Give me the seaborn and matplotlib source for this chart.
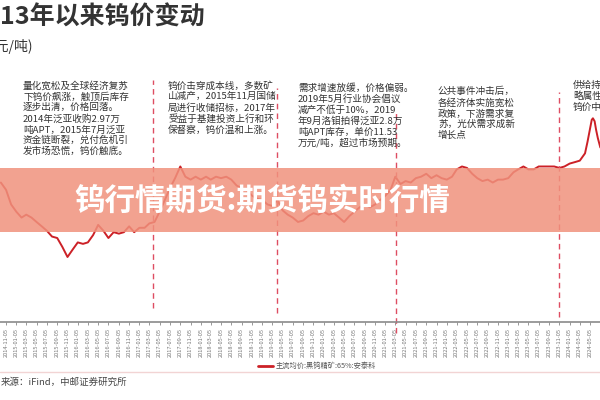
import matplotlib
matplotlib.use("Agg")
import matplotlib.pyplot as plt
import seaborn as sns
import pandas as pd
from matplotlib.patches import Rectangle
from matplotlib.lines import Line2D

# monthly price, 2014-10 .. 2024-04 (万元/吨)
monthly_price = [
    10.8, 10.3, 9.3,
    8.8, 8.4, 8.6, 8.4, 8.1, 7.8, 7.5, 7.1, 7.0, 6.4, 5.7, 6.2,
    6.7, 6.6, 6.7, 7.2, 7.9, 7.5, 7.0, 7.4, 7.3, 7.4, 7.8, 7.4,
    7.7, 7.7, 8.0, 8.1, 8.8, 9.6, 10.4, 11.1, 11.9, 11.2, 11.0, 11.2,
    11.0, 11.2, 11.0, 11.2, 11.1, 11.2, 11.0, 10.6, 10.4, 10.3, 9.9, 9.7,
    9.6, 9.3, 9.2, 9.6, 8.9, 8.6, 8.4, 8.1, 8.2, 8.5, 8.7, 8.6,
    8.8, 8.6, 8.7, 8.4, 8.1, 8.5, 8.8, 9.1, 9.3, 9.1, 9.3, 9.6,
    9.9, 10.3, 11.2, 10.7, 10.9, 10.8, 11.1, 11.2, 11.4, 11.1, 11.3, 11.1,
    11.0, 11.2, 11.7, 11.9, 11.8, 11.4, 11.1, 10.9, 11.0, 10.8, 11.0, 11.0,
    11.1, 11.5, 11.7, 11.9, 11.7, 11.7, 11.9, 11.9, 11.9, 11.9, 11.8, 11.9,
    12.1, 12.2, 12.3, 12.8,
]
# the 2024 spike, sampled more finely
spike_dates = ["2024-04-20", "2024-05-05", "2024-05-15", "2024-05-22",
               "2024-06-01", "2024-06-10", "2024-06-20", "2024-07-05"]
spike_price = [13.6, 14.5, 15.1, 15.2, 15.0, 14.4, 13.85, 13.2]

event_dates = ["2017-03-25", "2019-03-31", "2021-03-08", "2023-10-31"]
event_notes = [
    "量化宽松及全球经济复苏\n下钨价飙涨，触顶后库存\n逐步出清，价格回落。\n2014年泛亚收购2.97万\n吨APT，2015年7月泛亚\n资金链断裂，兑付危机引\n发市场恐慌，钨价触底。",
    "钨价击穿成本线，多数矿\n山减产，2015年11月国储\n局进行收储招标，2017年\n受益于基建投资上行和环\n保督察，钨价温和上涨。",
    "需求增速放缓，价格偏弱。\n2019年5月行业协会倡议\n减产不低于10%，2019\n年9月洛钼拍得泛亚2.8万\n吨APT库存，单价11.53\n万元/吨，超过市场预期。",
    "公共事件冲击后，\n各经济体实施宽松\n政策，下游需求复\n苏，光伏需求成新\n增长点",
    "供给持续收缩，战\n略属性凸显，\n钨价中枢上移",
]

title = "13年以来钨价变动"
unit = "(元/吨)"
banner = "钨行情期货:期货钨实时行情"
series_name = "主流均价:黑钨精矿:65%:安泰科"
source = "来源：iFind，中邮证券研究所"

# layout helpers (pixel -> figure fraction, pixel -> data value)
W, H = 600, 400
def fx(x):
    return x / W
def fy(y):
    return 1 - y / H
def yv(y):
    return 5.7 + (257 - y) / 14.6

LINE_RED = "#cc2127"
DASH_RED = "#de4d62"
TEXT = "#333333"

sns.set_theme(style="white")
plt.rcParams["font.family"] = ["Noto Sans CJK SC", "DejaVu Sans"]

dates = list(pd.date_range("2014-10-01", periods=len(monthly_price), freq="MS") + pd.Timedelta(days=4))
dates += list(pd.to_datetime(spike_dates))
df = pd.DataFrame({"date": dates, "price": monthly_price + spike_price})

fig = plt.figure(figsize=(6, 4), dpi=100)
ax = fig.add_axes([0, fy(322), 1, (322 - 60) / H])

sns.lineplot(data=df, x="date", y="price", ax=ax, color=LINE_RED, linewidth=1.4)

ax.set_xlim(pd.Timestamp("2014-09-30"), pd.Timestamp("2024-07-03"))
ax.set_ylim(yv(322), yv(60))

tick_dates = pd.date_range("2014-11-01", "2024-05-01", freq="2MS") + pd.Timedelta(days=4)
ax.set_xticks(tick_dates)
ax.set_xticklabels([d.strftime("%Y-%m-%d") for d in tick_dates], rotation=90,
                   fontsize=4.1, color="#777777")
ax.tick_params(axis="x", bottom=True, length=2.5, width=0.6, color="#888888", pad=1.5)
ax.set_yticks([])
ax.set_xlabel("")
ax.set_ylabel("")
for side in ["top", "left", "right"]:
    ax.spines[side].set_visible(False)
ax.spines["bottom"].set_color("#8a8a8a")
ax.spines["bottom"].set_linewidth(1.2)

# event separators
tops = [80, 88, 110, 92]
bottoms = [308, 313, 333, 317]
for d, t, b in zip(event_dates, tops, bottoms):
    ax.plot([pd.Timestamp(d)] * 2, [yv(b), yv(t)], color=DASH_RED, lw=1,
            ls=(0, (4, 3)), clip_on=False)

note_pos = [(23, 81), (168, 81), (298, 83), (438, 87), (573, 81)]
for (x, y), note in zip(note_pos, event_notes):
    fig.text(fx(x), fy(y), note, fontsize=6.9, color=TEXT, ha="left", va="top",
             linespacing=1.2)

# header
fig.text(fx(0), fy(18), title, fontsize=18, weight="bold", color=TEXT, va="center")
fig.text(fx(33), fy(47), unit, fontsize=10, color=TEXT, ha="right", va="center")

# footer
fig.add_artist(Line2D([fx(258), fx(273)], [fy(366)] * 2, color=LINE_RED, lw=2))
fig.text(fx(276), fy(366), series_name, fontsize=5.2, color="#555555", va="center")
fig.add_artist(Line2D([0, 1], [fy(372)] * 2, color="#f2d4d4", lw=1))
fig.text(fx(1), fy(382), source, fontsize=6.8, color="#444444", va="center")

# overlay banner
fig.add_artist(Rectangle((0, fy(232)), 1, 64 / H, transform=fig.transFigure,
                         facecolor="#f0927d", alpha=0.85, edgecolor="none", zorder=10))
fig.text(fx(262), fy(201), banner, fontsize=22, weight="bold", color="white",
         ha="center", va="center", zorder=11)

fig.savefig("out.png", dpi=100)
plt.close(fig)
